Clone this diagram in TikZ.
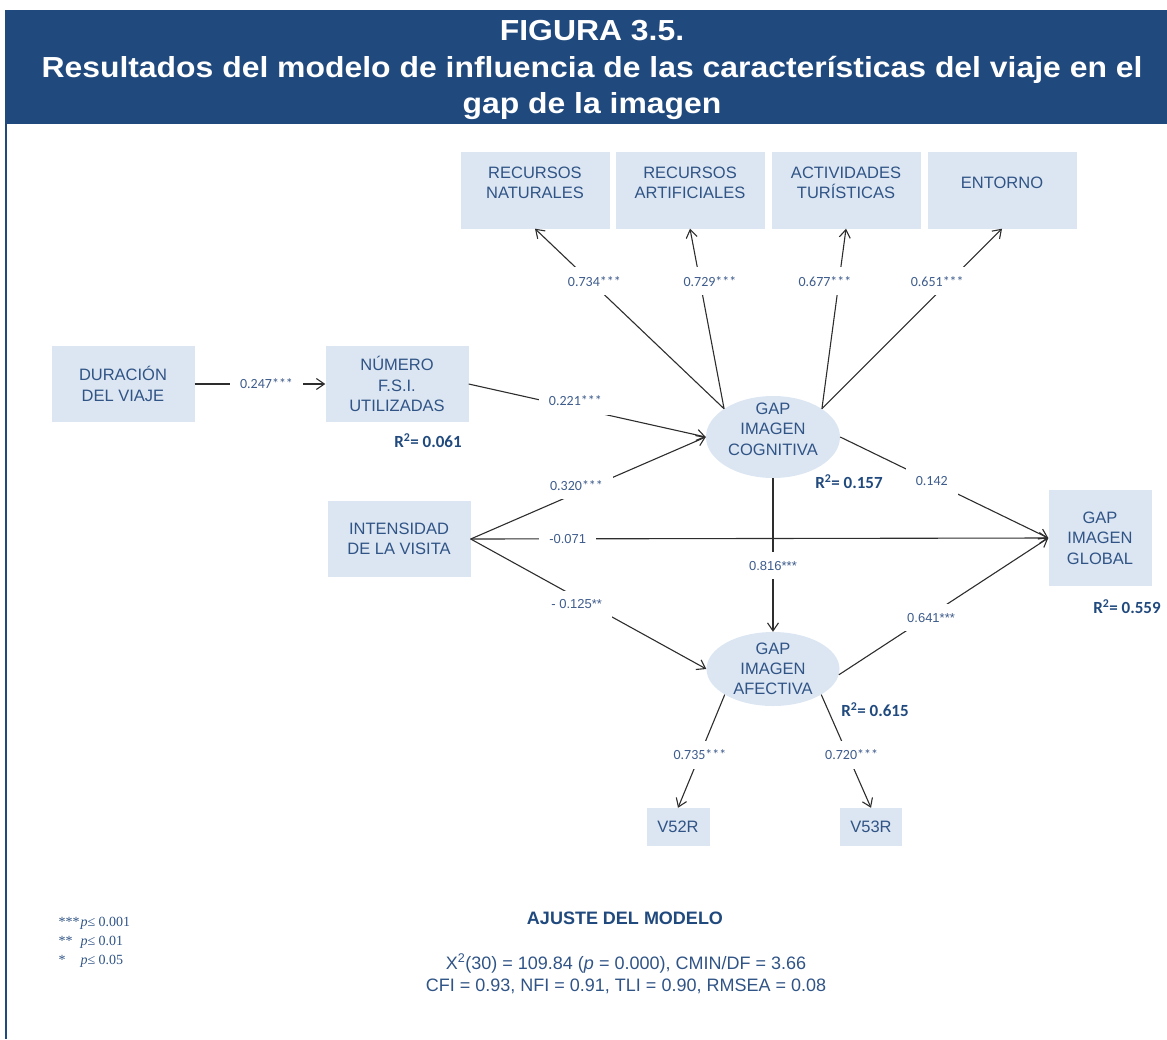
\documentclass[tikz,border=0pt]{standalone}
\usepackage{fontspec}
\setmainfont{Liberation Sans}
\newfontfamily\titlefont[FakeStretch=1.1]{Liberation Sans}
\newfontfamily\califont{Carlito}
\newfontfamily\timesfont{Liberation Serif}
\usepackage{xcolor}
\usetikzlibrary{arrows.meta,shapes.geometric,positioning,calc}

\definecolor{bandblue}{RGB}{32,73,125}
\definecolor{boxfill}{RGB}{220,230,242}
\definecolor{boxtext}{RGB}{48,84,134}
\definecolor{coeftext}{RGB}{62,92,140}
\definecolor{linegray}{RGB}{45,45,45}

\tikzset{
  var/.style={rectangle, fill=boxfill, text=boxtext, align=center, inner sep=0pt,
    font=\fontsize{16.5}{20.5}\selectfont},
  topvar/.style={var, minimum width=149pt, minimum height=77pt},
  boxlabel/.style={text=boxtext, align=center, inner sep=0pt, yshift=7pt,
    font=\fontsize{16.5}{20.5}\selectfont},
  latent/.style={ellipse, fill=boxfill, text=boxtext, align=center, inner sep=0pt,
    font=\fontsize{16.5}{20}\selectfont},
  eff/.style={draw=linegray, line width=1.1pt, -{Straight Barb[length=8pt,width=11pt]}},
  coef/.style={fill=white, text=coeftext, inner xsep=10pt, inner ysep=9pt,
    font=\califont\fontsize{14}{14}\selectfont},
  coefa/.style={coef, font=\fontsize{13}{13}\selectfont},
  rsq/.style={text=bandblue, font=\califont\bfseries\fontsize{17}{17}\selectfont},
}

\begin{document}
\begin{tikzpicture}[x=1pt, y=-1pt]
    \useasboundingbox (0,0) rectangle (1167,1039);

    % title band and frame
    \fill[bandblue] (5,10) rectangle (1167,124);
    \draw[bandblue, line width=2pt] (6,124) -- (6,1039);
    \node[text=white, align=center, font=\titlefont\bfseries\fontsize{29}{36.5}\selectfont] (title) at (592,70)
        {FIGURA 3.5.\\Resultados del modelo de influencia de las características del viaje en el\\gap de la imagen};

    % indicators of the cognitive image
    \node[topvar, label={[boxlabel]center:RECURSOS\\NATURALES}] (rnat) at (535,190) {};
    \node[topvar, label={[boxlabel]center:RECURSOS\\ARTIFICIALES}] (rart) at (690,190) {};
    \node[topvar, label={[boxlabel]center:ACTIVIDADES\\TURÍSTICAS}] (actv) at (846,190) {};
    \node[topvar, label={[boxlabel]center:ENTORNO}] (ento) at (1002,190) {};

    % trip characteristics
    \node[var, minimum width=143pt, minimum height=76pt] (dura) at (123,384) {DURACIÓN\\DEL VIAJE};
    \node[var, minimum width=143pt, minimum height=76pt] (nfsi) at (397,384) {NÚMERO\\F.S.I.\\UTILIZADAS};
    \node[var, minimum width=143pt, minimum height=76pt] (inte) at (399,539) {INTENSIDAD\\DE LA VISITA};

    % image gaps
    \node[latent, minimum width=134pt, minimum height=82pt,
          label={[boxlabel, yshift=1pt]center:GAP\\IMAGEN\\COGNITIVA}] (cogn) at (773,437) {};
    \node[latent, minimum width=133pt, minimum height=74pt] (afec) at (773,669) {GAP\\IMAGEN\\AFECTIVA};
    \node[var, minimum width=103pt, minimum height=96pt] (glob) at (1100,538) {GAP\\IMAGEN\\GLOBAL};
    \node[var, minimum width=63pt, minimum height=38pt] (v52r) at (678,827) {V52R};
    \node[var, minimum width=62pt, minimum height=38pt] (v53r) at (871,827) {V53R};

    % explained variance
    \node[rsq] (r2nfsi) at (428,441) {R\textsuperscript{2}= 0.061};
    \node[rsq] (r2cogn) at (849,482) {R\textsuperscript{2}= 0.157};
    \node[rsq] (r2afec) at (875,710) {R\textsuperscript{2}= 0.615};
    \node[rsq] (r2glob) at (1127,607) {R\textsuperscript{2}= 0.559};

    % structural paths
    \draw[eff] (dura) -- node[coef, pos=0.55] (c1) {0.247***} (nfsi);
    \draw[eff] (nfsi.east) -- node[coef, pos=0.45, yshift=7pt] (c2) {0.221***} (cogn.west);
    \draw[eff] (inte.east) -- node[coef, pos=0.45, yshift=8pt] (c3) {0.320***} (cogn.west);
    \draw[eff] (inte.east) -- node[coefa, pos=0.168] (c4) {-0.071} (glob.west);
    \draw[eff] (inte.east) -- node[coefa, pos=0.45, yshift=-7pt] (c5) {- 0.125**} (afec.west);
    \draw[eff] (cogn.south) -- node[coefa, pos=0.57] (c6) {0.816***} (afec.north);
    \draw[eff] (cogn.east) -- node[coef, pos=0.44] (c7) {0.142} (glob.west);
    \draw[eff] (afec.-5) -- node[coefa, pos=0.44, yshift=-3pt] (c8) {0.641***} (glob.west);

    % measurement paths
    \draw[eff] (cogn.150) -- node[coef, pos=0.707, xshift=4pt] (l1) {0.734***} (rnat.south);
    \draw[eff] (cogn.150) -- node[coef, pos=0.707, xshift=10pt] (l2) {0.729***} (rart.south);
    \draw[eff] (cogn.30) -- node[coef, pos=0.707, xshift=-14pt] (l3) {0.677***} (actv.south);
    \draw[eff] (cogn.30) -- node[coef, pos=0.707, xshift=-12pt] (l4) {0.651***} (ento.south);
    \draw[eff] (afec.208) -- node[coef, pos=0.53] (l5) {0.735***} (v52r.north);
    \draw[eff] (afec.332) -- node[coef, pos=0.53, xshift=4pt] (l6) {0.720***} (v53r.north);

    % significance key
    \node[anchor=west, align=left, text=boxtext, font=\timesfont\fontsize{14}{19}\selectfont] (keys) at (55,942)
        {\makebox[22pt][l]{***}\textit{p}≤ 0.001\\\makebox[22pt][l]{**}\textit{p}≤ 0.01\\\makebox[22pt][l]{*}\textit{p}≤ 0.05};

    % model fit
    \node[text=bandblue, font=\bfseries\fontsize{18}{18}\selectfont] (fit) at (625,918) {AJUSTE DEL MODELO};
    \node[text=boxtext, align=center, font=\fontsize{18}{22.5}\selectfont] (fitidx) at (626,974)
        {X\textsuperscript{2}(30) = 109.84 (\textit{p} = 0.000), CMIN/DF = 3.66\\CFI = 0.93, NFI = 0.91, TLI = 0.90, RMSEA = 0.08};
\end{tikzpicture}
\end{document}
